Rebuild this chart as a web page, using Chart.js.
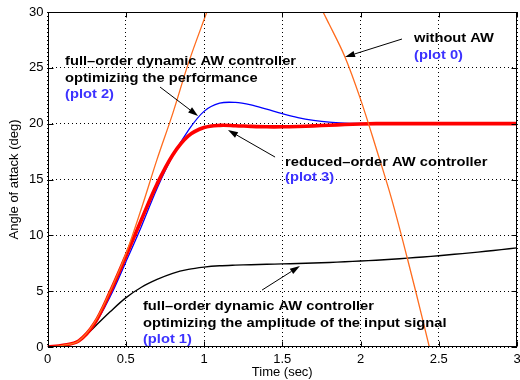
<!DOCTYPE html>
<html><head><meta charset="utf-8">
<script src="https://cdn.jsdelivr.net/npm/chart.js@4"></script>
<style>html,body{margin:0;padding:0;background:#fff}#wrap{width:520px;height:380px}</style>
</head><body><div id="wrap"><canvas id="c" width="520" height="380"></canvas></div>
<script>
// ---- data ----
const time = [0,0.1,0.2,0.3,0.4,0.5,0.6,0.7,0.8,0.9,1.0,1.1,1.2,1.3,1.4,1.5,1.6,1.7,1.8,1.9,2.0,2.1,2.2,2.3,2.4,2.5,2.6,2.7,2.8,2.9,3.0];
// plot 1: full-order AW, optimizing input amplitude (black)
const plot1 = [0,0.15,0.55,1.8,3.15,4.4,5.35,6.05,6.6,6.95,7.15,7.27,7.33,7.37,7.41,7.44,7.48,7.52,7.57,7.63,7.7,7.77,7.86,7.96,8.06,8.17,8.3,8.43,8.57,8.72,8.88];
// plot 2: full-order AW, optimizing performance (blue)
const plot2 = [0,0.15,0.55,2.0,4.5,7.6,10.8,14.2,17.1,19.4,21.1,21.83,21.9,21.68,21.3,20.9,20.55,20.3,20.13,20.05,20.02,20,20,20,20,20,20,20,20,20,20];
// plot 3: reduced-order AW (red)
const plot3 = [0,0.15,0.55,2.1,4.9,8.1,11.4,14.6,17.2,18.9,19.65,19.85,19.82,19.76,19.72,19.72,19.75,19.8,19.86,19.92,19.97,20,20,20,20,20,20,20,20,20,20];
// plot 0: without AW (orange)
const time0 = [0,0.1,0.2,0.3,0.4,0.5,0.6,0.7,0.8,0.9,1.0,1.1,1.2,1.3,1.4,1.5,1.6,1.7,1.8,1.9,2.0,2.1,2.2,2.3,2.4,2.5];
const plot0 = [0,0.15,0.55,2.2,5.0,8.3,12.4,16.8,20.9,25.4,29.3,33.0,35.8,36.8,36.6,35.5,33.8,31.6,28.9,26.0,22.2,17.8,13.2,7.9,2.3,-3.5];
const xTickLabels = ['0','0.5','1','1.5','2','2.5','3'];
const yTickLabels = ['0','5','10','15','20','25','30'];
const xTitle = 'Time (sec)';
const yTitle = 'Angle of attack (deg)';

// ---- annotations (positions in data units) ----
const BLUE_TXT = '#3c32ff';
const notes = [
  {t:0.112, v:25.25, gap:16.7, lines:[['full–order dynamic AW controller','#000'],['optimizing the performance','#000'],['(plot 2)',BLUE_TXT]]},
  {t:2.342, v:27.29, gap:17, lines:[['without AW','#000'],['(plot 0)',BLUE_TXT]]},
  {t:1.518, v:16.2, gap:14.5, lines:[['reduced–order AW controller','#000'],['(plot 3)',BLUE_TXT]]},
  {t:0.61, v:3.31, gap:16.7, lines:[['full–order dynamic AW controller','#000'],['optimizing the amplitude of the input signal','#000'],['(plot 1)',BLUE_TXT]]}
];
const arrows = [
  {from:[0.719,23.28], to:[0.962,20.69]},
  {from:[2.265,27.58], to:[1.901,25.97]},
  {from:[1.454,17.01], to:[1.153,19.43]},
  {from:[1.371,5.10], to:[1.613,7.25]}
];

const FONT = '"Liberation Sans", Arial, Helvetica, sans-serif';
const pts = (xs, ys) => xs.map((x, i) => ({x, y: ys[i]}));

const framePlugin = {
  id: 'frame',
  afterDatasetsDraw(chart) {
    const {ctx, chartArea: a, scales: {x, y}} = chart;
    ctx.save();
    ctx.strokeStyle = '#000';
    ctx.lineWidth = 1;
    const L = Math.round(a.left) + 0.5, R = Math.round(a.right) - 0.5, T = Math.round(a.top) + 0.5, B = Math.round(a.bottom) - 0.5;
    ctx.strokeRect(L, T, R - L, B - T);
    ctx.beginPath();
    x.ticks.forEach(tk => {
      const p = Math.round(x.getPixelForValue(tk.value)) + 0.5;
      ctx.moveTo(p, B); ctx.lineTo(p, B - 5);
      ctx.moveTo(p, T); ctx.lineTo(p, T + 5);
    });
    y.ticks.forEach(tk => {
      const p = Math.round(y.getPixelForValue(tk.value)) + 0.5;
      ctx.moveTo(L, p); ctx.lineTo(L + 5, p);
      ctx.moveTo(R, p); ctx.lineTo(R - 5, p);
    });
    ctx.stroke();
    ctx.restore();
  },
  afterDraw(chart) {
    const {ctx, scales: {x, y}} = chart;
    ctx.save();
    ctx.font = 'bold 13px ' + FONT;
    ctx.textAlign = 'left';
    ctx.textBaseline = 'alphabetic';
    notes.forEach(n => {
      const px = x.getPixelForValue(n.t), py = y.getPixelForValue(n.v);
      n.lines.forEach((ln, i) => {
        ctx.save();
        ctx.translate(px, py + i * n.gap);
        ctx.scale(1.13, 1);
        ctx.fillStyle = ln[1];
        ctx.fillText(ln[0], 0, 0);
        ctx.restore();
      });
    });
    ctx.strokeStyle = '#000';
    ctx.fillStyle = '#000';
    ctx.lineWidth = 1;
    arrows.forEach(ar => {
      const x0 = x.getPixelForValue(ar.from[0]), y0 = y.getPixelForValue(ar.from[1]);
      const x1 = x.getPixelForValue(ar.to[0]), y1 = y.getPixelForValue(ar.to[1]);
      const ang = Math.atan2(y1 - y0, x1 - x0);
      const len = 10, hw = 3.2;
      const bx = x1 - len * Math.cos(ang), by = y1 - len * Math.sin(ang);
      ctx.beginPath(); ctx.moveTo(x0, y0); ctx.lineTo(bx, by); ctx.stroke();
      ctx.beginPath();
      ctx.moveTo(x1, y1);
      ctx.lineTo(bx + hw * Math.sin(ang), by - hw * Math.cos(ang));
      ctx.lineTo(bx - hw * Math.sin(ang), by + hw * Math.cos(ang));
      ctx.closePath(); ctx.fill();
    });
    ctx.restore();
  }
};

const lineDs = (label, data, color, w) => ({
  label, data, borderColor: color, backgroundColor: color, borderWidth: w,
  pointRadius: 0, pointHoverRadius: 0, fill: false, tension: 0.35, clip: 0
});

new Chart(document.getElementById('c'), {
  type: 'line',
  data: {
    datasets: [
      lineDs('plot 0', pts(time0, plot0), 'rgb(255,108,30)', 1.3),
      lineDs('plot 3', pts(time, plot3), '#ff0000', 3.6),
      lineDs('plot 2', pts(time, plot2), '#0000ff', 1.3),
      lineDs('plot 1', pts(time, plot1), '#000000', 1.4)
    ]
  },
  options: {
    responsive: false,
    animation: false,
    devicePixelRatio: 1,
    layout: {padding: {top: 12, right: 3, left: 0, bottom: 0}},
    plugins: {legend: {display: false}, tooltip: {enabled: false}},
    scales: {
      x: {
        type: 'linear', min: 0, max: 3,
        ticks: {stepSize: 0.5, autoSkip: false, maxRotation: 0, padding: 5, color: '#000',
                font: {family: FONT, size: 13}, callback: (v, i) => xTickLabels[i]},
        grid: {color: '#000', lineWidth: 1, drawTicks: false},
        border: {display: false, dash: [1, 3]},
        title: {display: true, text: xTitle, color: '#000', font: {family: FONT, size: 13, lineHeight: 1}, padding: {top: 0, bottom: 1}},
        afterFit(s) { s.height = 33; s.paddingLeft = 0; s.paddingRight = 0; }
      },
      y: {
        min: 0, max: 30,
        ticks: {stepSize: 5, autoSkip: false, padding: 4, color: '#000',
                font: {family: FONT, size: 13}, callback: (v, i) => yTickLabels[i]},
        grid: {color: '#000', lineWidth: 1, drawTicks: false},
        border: {display: false, dash: [1, 3]},
        title: {display: true, text: yTitle, color: '#000', font: {family: FONT, size: 13, lineHeight: 1}, padding: {top: 8, bottom: 0}},
        afterFit(s) { s.width = 47.5; s.paddingTop = 0; s.paddingBottom = 0; }
      }
    }
  },
  plugins: [framePlugin]
});
</script>
</body></html>
